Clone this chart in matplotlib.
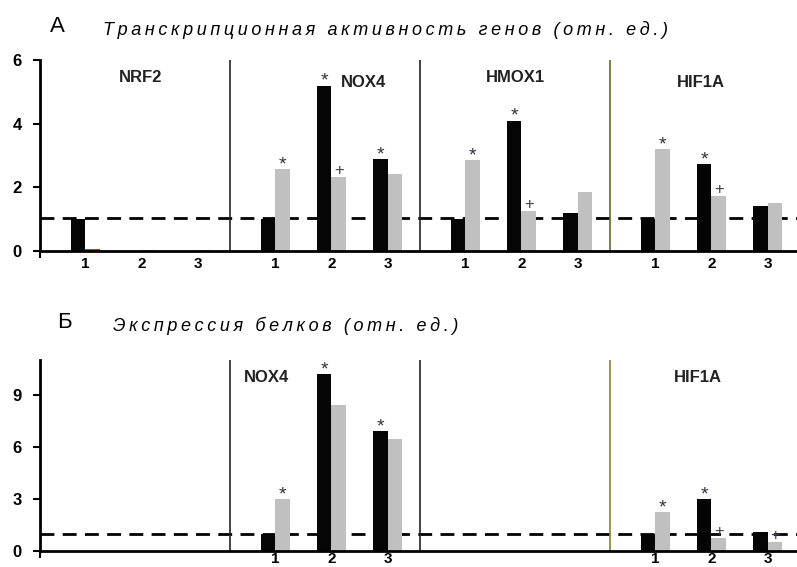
import matplotlib
matplotlib.use("Agg")
import matplotlib.pyplot as plt
import numpy as np

plt.rcParams['font.family'] = ['Liberation Sans', 'DejaVu Sans']

# gene groups and the three conditions within each
genes = ["NRF2", "NOX4", "HMOX1", "HIF1A"]
conds = ["1", "2", "3"]

# A: transcription activity (rel. units), black = first series, gray = second
rna_black = [[1.0, 0.0, 0.0],
             [1.0, 5.19, 2.89],
             [1.0, 4.09, 1.19],
             [1.0, 2.72, 1.41]]
rna_gray = [[0.06, 0.03, 0.03],
            [2.58, 2.33, 2.42],
            [2.86, 1.26, 1.85],
            [3.21, 1.73, 1.50]]
rna_black_marks = [["", "", ""], ["", "*", "*"], ["", "*", ""], ["", "*", ""]]
rna_gray_marks = [["", "", ""], ["*", "+", ""], ["*", "+", ""], ["*", "+", ""]]

# B: protein expression (rel. units); NRF2 and HMOX1 not measured
prot_black = [[0, 0, 0],
              [1.0, 10.17, 6.9],
              [0, 0, 0],
              [1.0, 2.99, 1.09]]
prot_gray = [[0, 0, 0],
             [3.0, 8.4, 6.44],
             [0, 0, 0],
             [2.24, 0.75, 0.52]]
prot_black_marks = [["", "", ""], ["", "*", "*"], ["", "", ""], ["", "*", ""]]
prot_gray_marks = [["", "", ""], ["*", "", ""], ["", "", ""], ["*", "+", "+"]]
prot_labels = ["", "NOX4", "", "HIF1A"]

W, H = 797, 567
fig = plt.figure(figsize=(W / 100, H / 100), dpi=100)

offset, step, bw = 0.238, 0.296, 0.076
xmax = 757 / 190


def spaced(s):
    return "\u2009".join(s)


def mark(ax, s, x, h):
    if not s:
        return
    if s == "*":
        ax.annotate(s, (x, h), xytext=(0, -3), textcoords="offset points",
                    ha="center", va="bottom", fontsize=14, color="#303040")
    else:
        ax.annotate(s, (x, h), xytext=(0, -1), textcoords="offset points",
                    ha="center", va="bottom", fontsize=12, color="#404050")


def panel(ax, black, gray, bmarks, gmarks, ymax, yticks, labels, label_pos, sep_colors, ref, xlab_pad):
    ax.set_xlim(0, xmax)
    ax.set_ylim(0, ymax)
    for sp in ["top", "right"]:
        ax.spines[sp].set_visible(False)
    ax.spines["left"].set_linewidth(2)
    ax.spines["bottom"].set_linewidth(2)
    ax.axhline(ref, color="black", lw=2, ls=(0, (5, 3)), zorder=1)
    xt, xl = [], []
    for g in range(len(genes)):
        for c in range(len(conds)):
            x = g + offset + step * c
            xt.append(x)
            xl.append(conds[c] if labels[g] else "")
            hb, hg = black[g][c], gray[g][c]
            if hb > 0:
                ax.bar(x - bw / 2, hb, bw, color="#050505", zorder=2)
            if hg > 0:
                col = "#d03020" if (g == 0 and c == 0) else "#c0c0c0"
                ax.bar(x + bw / 2, hg, bw, color=col, zorder=2)
            mark(ax, bmarks[g][c], x - bw / 2, hb)
            mark(ax, gmarks[g][c], x + bw / 2, hg)
        if labels[g]:
            ax.text(label_pos[g][0], label_pos[g][1], labels[g],
                    ha="center", va="center", fontsize=12, fontweight="bold", color="#222222")
    for g in range(1, len(genes)):
        ax.axvline(g, color=sep_colors[g - 1], lw=1.2, zorder=1)
    ax.set_xticks(xt)
    ax.set_xticklabels(xl)
    ax.tick_params(axis="x", length=0, pad=xlab_pad, labelsize=11)
    ax.set_xticks([0], minor=True)
    ax.tick_params(axis="x", which="minor", length=5, width=1.5)
    for t in ax.get_xticklabels():
        t.set_fontweight("bold")
    ax.set_yticks(yticks)
    ax.tick_params(axis="y", length=5, width=1.5, pad=8, labelsize=12)
    for t in ax.get_yticklabels():
        t.set_fontweight("bold")


axA = fig.add_axes([40 / W, 1 - 251 / H, 757 / W, 191 / H])
panel(axA, rna_black, rna_gray, rna_black_marks, rna_gray_marks, 6, [0, 2, 4, 6], genes,
      [(0.53, 5.45), (1.7, 5.3), (2.5, 5.45), (3.48, 5.3)],
      ["#222222", "#222222", "#6a6630"], 1.04, 4)

axB = fig.add_axes([40 / W, 1 - 551 / H, 757 / W, 191 / H])
panel(axB, prot_black, prot_gray, prot_black_marks, prot_gray_marks, 11, [0, 3, 6, 9], prot_labels,
      [None, (1.19, 9.98), None, (3.46, 9.98)],
      ["#222222", "#222222", "#8a8420"], 1.0, 1)

fig.text(50 / W, 1 - 27 / H, "А", fontsize=16, va="center", ha="left")
fig.text(103 / W, 1 - 30 / H, spaced("Транскрипционная активность генов (отн. ед.)"),
         fontsize=13, style="italic", va="center", ha="left")
fig.text(57 / W, 1 - 323 / H, "Б", fontsize=16, va="center", ha="left")
fig.text(113 / W, 1 - 326 / H, spaced("Экспрессия белков (отн. ед.)"),
         fontsize=13, style="italic", va="center", ha="left")

fig.savefig("out.png", dpi=100)
